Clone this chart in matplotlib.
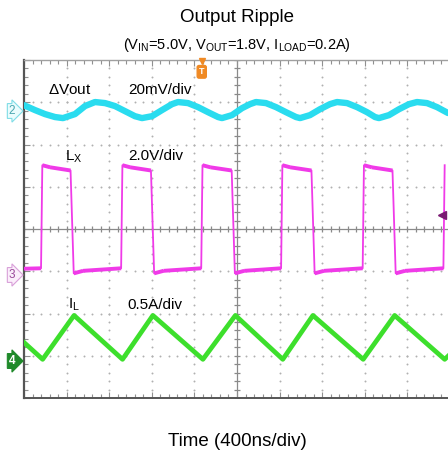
import numpy as np
import matplotlib
matplotlib.use("Agg")
import matplotlib.pyplot as plt

plt.rcParams['font.family'] = ['Liberation Sans', 'DejaVu Sans']
plt.rcParams['mathtext.fontset'] = 'custom'
plt.rcParams['mathtext.rm'] = 'Liberation Sans'
plt.rcParams['mathtext.it'] = 'Liberation Sans'

# ---------------- data ----------------
# time in ns (400 ns/div, 10 div)
# Channel 2: output ripple, mV (20 mV/div)
vout_t = [0, 103, 197, 291, 366, 479, 573, 667, 761, 854, 948, 1042, 1108, 1202,
          1296, 1390, 1446, 1540, 1634, 1728, 1822, 1859, 1953, 2047, 2122, 2178,
          2272, 2366, 2460, 2554, 2592, 2685, 2779, 2873, 2939, 3033, 3127, 3221,
          3296, 3333, 3427, 3521, 3615, 3690, 3784, 3878, 3981]
vout_mv = [2.8, 0.5, -1.4, -2.8, -3.3, -1.4, 2.4, 4.3, 3.8, 2.4, 0.0, -2.4, -3.3, -2.4,
           0.5, 3.3, 4.3, 3.8, 1.9, -0.5, -2.8, -3.3, -1.9, 1.4, 3.3, 4.3,
           3.8, 1.9, -0.5, -2.8, -3.3, -1.9, 0.9, 3.3, 4.3, 3.8, 1.9, -0.5,
           -2.8, -3.3, -1.9, 0.9, 3.3, 4.3, 3.8, 1.9, -0.9]

# Channel 3: switch node LX, V (2.0 V/div)
lx_rise = [166, 918, 1670, 2420, 3186, 3944]
lx_fall = [445, 1200, 1958, 2707, 3468]
lx_high = [5.2, 5.1, 4.95]      # just after rise, plateau, before fall
lx_low = [0.08, 0.2, 0.32]      # just after fall, middle, before rise
lx_start = 0.3

# Channel 4: inductor current IL, A (0.5 A/div)
il_t = [0, 175, 470, 925, 1210, 1680, 1985, 2430, 2713, 3185, 3480, 3950, 4000]
il_a = [0.22, 0.02, 0.54, 0.02, 0.54, 0.02, 0.54, 0.02, 0.54, 0.02, 0.54, 0.02, 0.08]

# channel offsets (div from bottom) and scales
ch2_off, ch2_scale = 6.79, 20.0
ch3_off, ch3_scale = 2.91, 2.0
ch4_off, ch4_scale = 0.875, 0.5

C_CYAN = '#2adcef'
C_MAG = '#f03ae8'
C_GRN = '#3ddf2c'

# ---------------- build LX vertices ----------------
lt, lv = [0, lx_rise[0] - 6], [lx_start, lx_low[2]]
for i, r in enumerate(lx_rise):
    lt += [r + 6, r + 80]
    lv += [lx_high[0], lx_high[1]]
    if i < len(lx_fall):
        f = lx_fall[i]
        lt += [f - 8, f + 22, f + 110]
        lv += [lx_high[2], lx_low[0], lx_low[1]]
        if i + 1 < len(lx_rise):
            lt += [lx_rise[i + 1] - 6]
            lv += [lx_low[2]]
lt = np.array(lt, float)
lv = np.array(lv, float)
keep = lt <= 4000
lt, lv = lt[keep], lv[keep]

# ---------------- figure ----------------
fig = plt.figure(figsize=(4.48, 4.54), dpi=100)
ax = fig.add_axes([24 / 448, 56 / 454, 426 / 448, 338 / 454])
ax.set_xlim(0, 4000)
ax.set_ylim(0, 8)

# grid dots
gcol = '#b0b0b0'
ydots = np.arange(0, 8.01, 0.2)
xdots = np.arange(0, 4000.1, 80)
for xv in np.arange(400, 4000, 400):
    if xv != 2000:
        ax.plot([xv] * len(ydots), ydots, ls='none', marker='o', ms=1.4, color=gcol, mew=0, zorder=1)
for yv in range(1, 8):
    if yv != 4:
        ax.plot(xdots, [yv] * len(xdots), ls='none', marker='o', ms=1.4, color=gcol, mew=0, zorder=1)

# centre cross with ticks
ccol = '#8a8a8a'
ax.axvline(2000, color=ccol, lw=0.9, zorder=1)
ax.axhline(4, color=ccol, lw=0.9, zorder=1)
ax.plot([2000] * len(ydots), ydots, ls='none', marker='_', ms=5, color=ccol, mew=0.9, zorder=1)
ax.plot(xdots, [4] * len(xdots), ls='none', marker='|', ms=5, color=ccol, mew=0.9, zorder=1)

# spines and ticks
ax.spines['right'].set_visible(False)
ax.spines['left'].set_color('#555555')
ax.spines['left'].set_linewidth(1.6)
ax.spines['bottom'].set_color('#555555')
ax.spines['bottom'].set_linewidth(1.4)
ax.spines['top'].set_color('#a0a0a0')
ax.spines['top'].set_linewidth(1.0)
ax.set_xticks(np.arange(0, 4001, 400))
ax.set_xticks(xdots, minor=True)
ax.set_yticks(np.arange(0, 8.01, 1))
ax.set_yticks(ydots, minor=True)
ax.tick_params(which='both', direction='in', top=True, bottom=True, left=True, right=False,
               labelbottom=False, labelleft=False, color='#909090', width=0.8)
ax.tick_params(which='major', length=4)
ax.tick_params(which='minor', length=3)

# traces
ax.plot(vout_t, ch2_off + np.array(vout_mv) / ch2_scale, color=C_CYAN, lw=4.6,
        solid_joinstyle='round', solid_capstyle='round', zorder=3)
ax.plot(lt, ch3_off + lv / ch3_scale, color=C_MAG, lw=1.3, zorder=3)
flat = np.abs(np.diff(lv)) < 1.0
for i in np.where(flat)[0]:
    ax.plot(lt[i:i + 2], ch3_off + lv[i:i + 2] / ch3_scale, color=C_MAG, lw=2.8,
            solid_capstyle='butt', zorder=3)
ax.plot(il_t, ch4_off + np.array(il_a) / ch4_scale, color=C_GRN, lw=3.4,
        solid_joinstyle='round', zorder=3)

# channel labels
lab_fs = 11
ax.text(226, 7.3, r'$\Delta$Vout', fontsize=lab_fs, ha='left', va='center')
ax.text(977, 7.3, '20mV/div', fontsize=lab_fs, ha='left', va='center')
ax.text(385, 5.72, r'L$_\mathrm{X}$', fontsize=lab_fs, ha='left', va='center')
ax.text(977, 5.72, '2.0V/div', fontsize=lab_fs, ha='left', va='center')
ax.text(415, 2.2, r'I$_\mathrm{L}$', fontsize=lab_fs, ha='left', va='center')
ax.text(968, 2.2, '0.5A/div', fontsize=lab_fs, ha='left', va='center')

# channel markers on left
def fy(py):
    return 1 - py / 454.0

fig.text(12 / 448, fy(111), '2', fontsize=8.5, ha='center', va='center', color='#4aa6b0',
         bbox=dict(boxstyle='rarrow,pad=0.12', fc='#eafcfd', ec='#7fdde6', lw=0.8))
fig.text(12 / 448, fy(275), '3', fontsize=8.5, ha='center', va='center', color='#9a4a9a',
         bbox=dict(boxstyle='rarrow,pad=0.12', fc='#fbeefb', ec='#d9a0d9', lw=0.8))
fig.text(12 / 448, fy(361), '4', fontsize=8.5, ha='center', va='center', color='white',
         fontweight='bold',
         bbox=dict(boxstyle='rarrow,pad=0.12', fc='#1f8a2a', ec='#1f8a2a', lw=0.8))

# trigger marker at top
ax.plot([1669], [7.98], marker='v', ms=5, color='#f08a24', clip_on=False, zorder=5)
ax.text(1669, 7.72, 'T', fontsize=6.5, color='white', fontweight='bold', ha='center',
        va='center', zorder=5,
        bbox=dict(boxstyle='round,pad=0.2', fc='#f08a24', ec='#f08a24'))
# trigger level marker on right
ax.plot([3922], [4.33], marker='<', ms=5.5, color='#7a1a72', zorder=5)

# titles
fig.text(237 / 448, fy(18), 'Output Ripple', fontsize=13.5, ha='center', va='center')
fig.text(237 / 448, fy(45),
         r'(V$_\mathrm{IN}$=5.0V, V$_\mathrm{OUT}$=1.8V, I$_\mathrm{LOAD}$=0.2A)',
         fontsize=10.5, ha='center', va='center')
fig.text(237 / 448, fy(442), 'Time (400ns/div)', fontsize=13.5, ha='center', va='center')

fig.savefig('out.png', dpi=100)
